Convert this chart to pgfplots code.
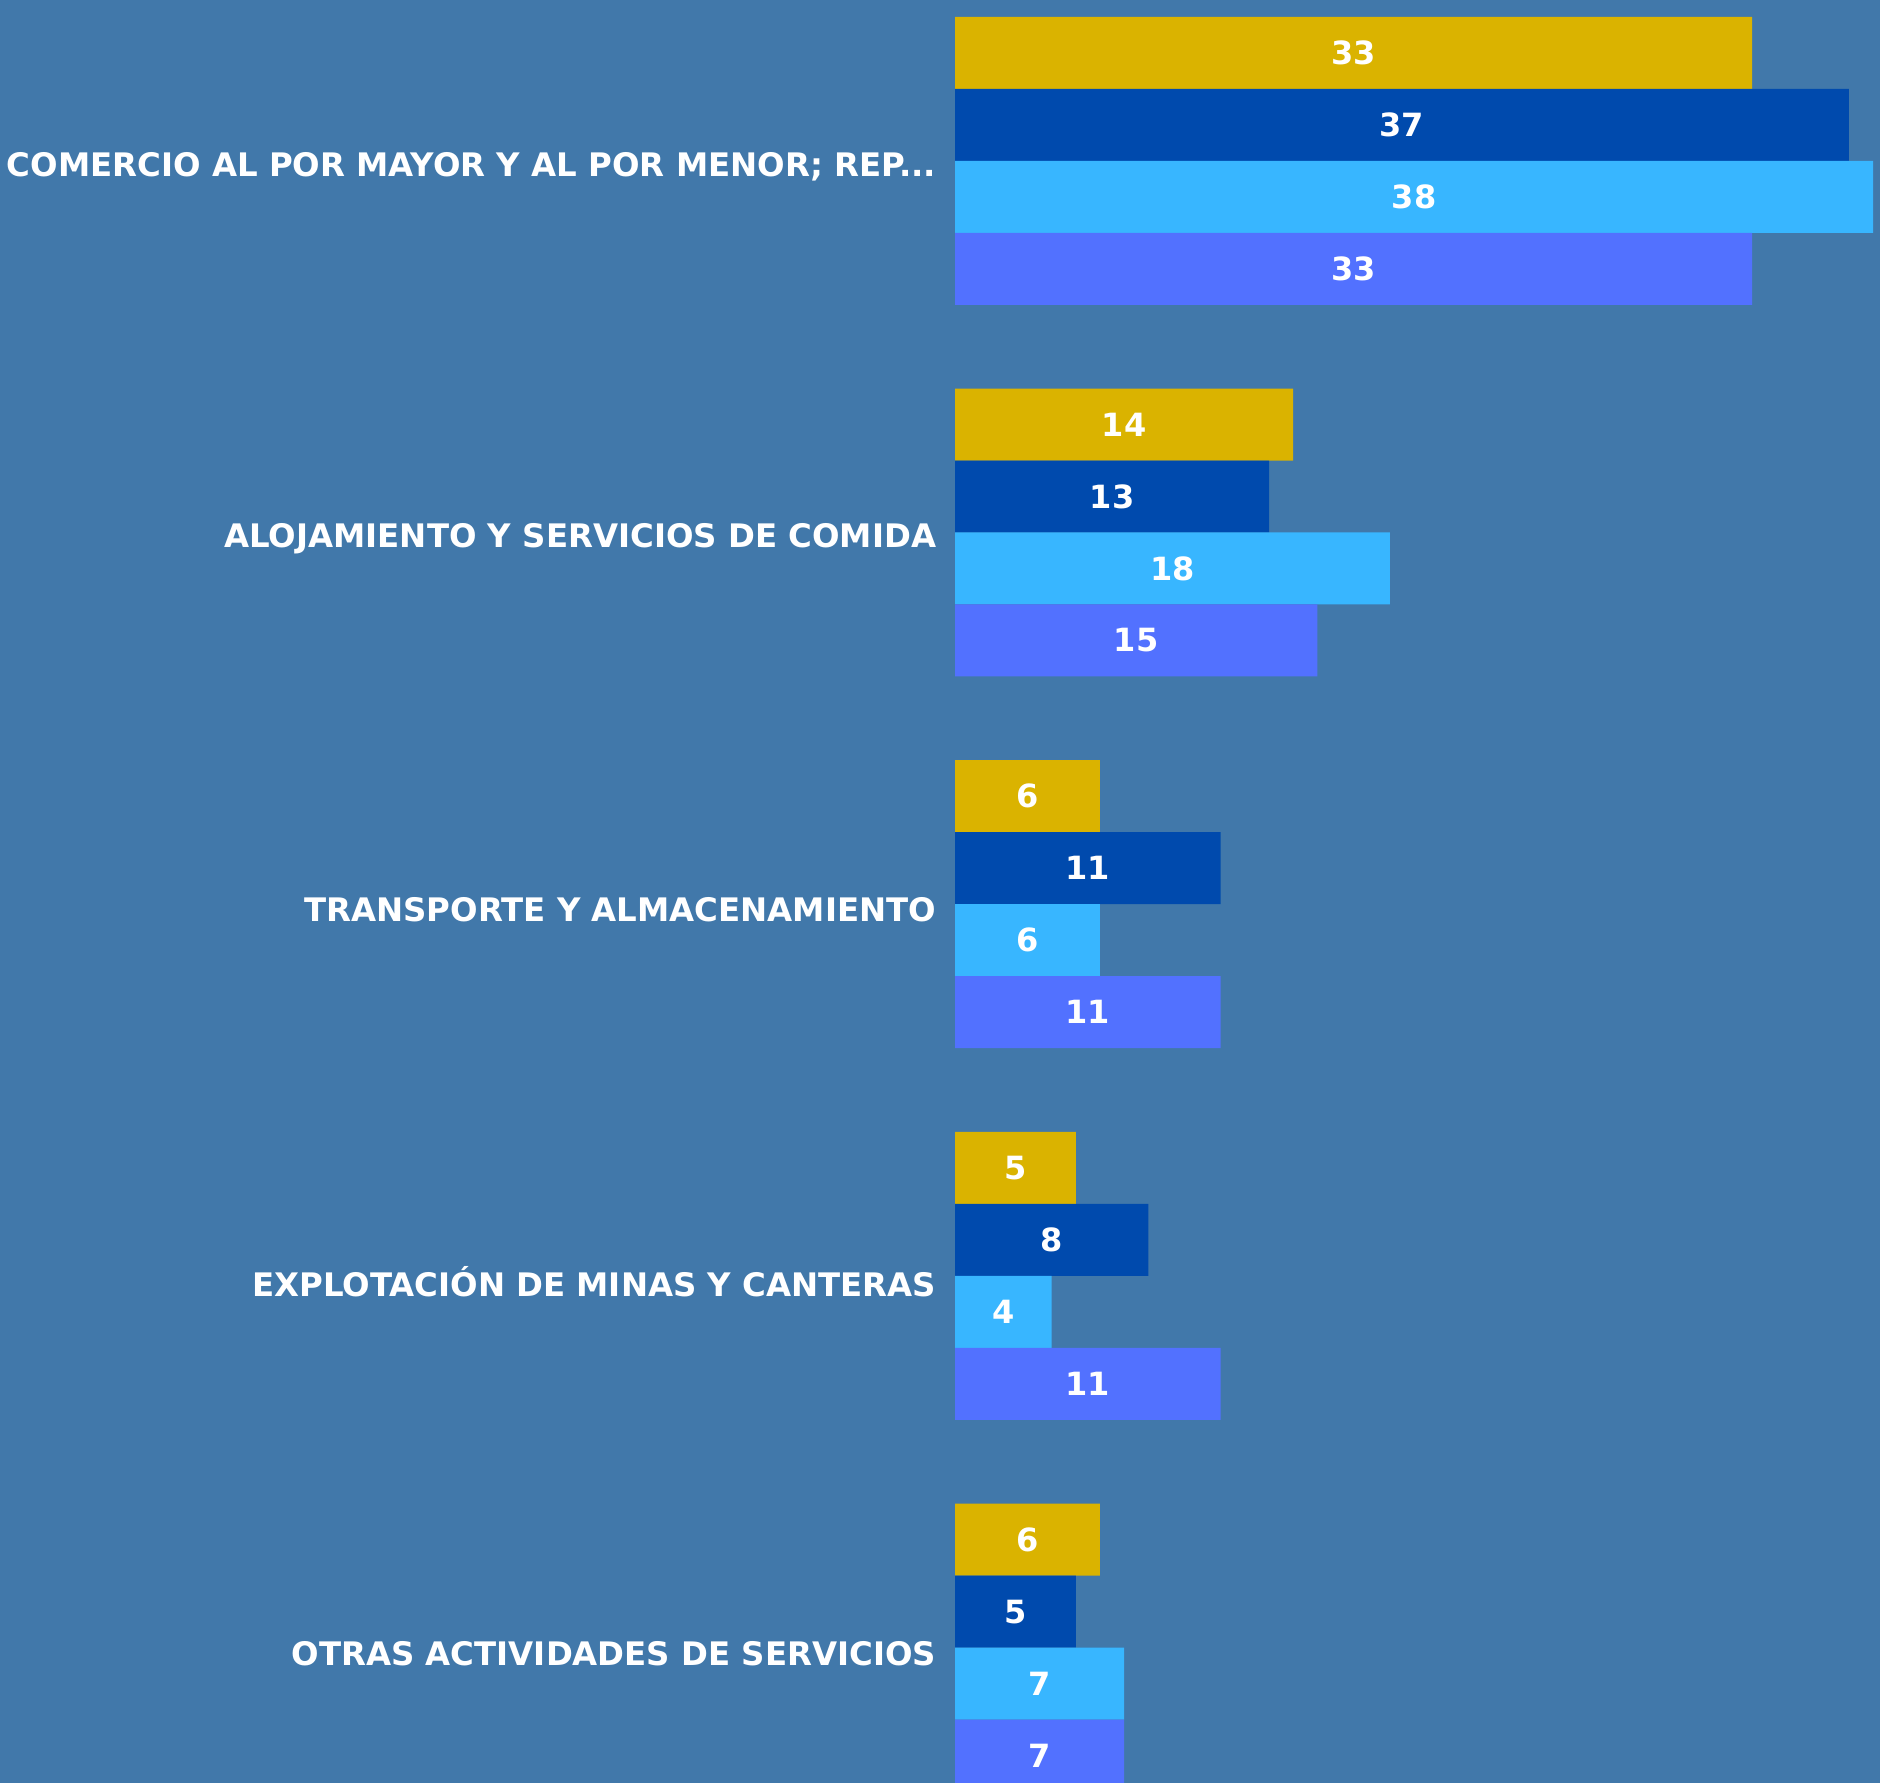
\documentclass[border=0pt]{standalone}
\usepackage{fontspec}
\setmainfont{DejaVu Sans}
\usepackage{pgfplots}
\pgfplotsset{compat=1.18}
\definecolor{bg}{RGB}{65,120,170}
\definecolor{cgold}{RGB}{218,179,0}
\definecolor{cdark}{RGB}{0,74,173}
\definecolor{clight}{RGB}{56,182,255}
\definecolor{cperi}{RGB}{82,113,255}
\begin{document}
\begin{tikzpicture}
  % 1 px of the reference = 0.25pt
  \useasboundingbox (0,0) rectangle (470pt,445.75pt);
  \clip (0,0) rectangle (470pt,445.75pt);
  \fill[bg] (0,0) rectangle (470pt,445.75pt);
  \begin{axis}[
    at={(238.75pt,452pt)}, anchor=north west,
    scale only axis,
    width=229.5pt, height=464.6pt,
    xbar, xmin=0, xmax=38,
    ymin=-0.5, ymax=4.5, y dir=reverse,
    bar width=0.1937,
    axis line style={draw=none},
    xtick=\empty,
    clip=false,
    ytick={0,1,2,3,4},
    yticklabels={{COMERCIO AL POR MAYOR Y AL POR MENOR; REP{...}},
                 {ALOJAMIENTO Y SERVICIOS DE COMIDA},
                 {TRANSPORTE Y ALMACENAMIENTO},
                 {EXPLOTACIÓN DE MINAS Y CANTERAS},
                 {OTRAS ACTIVIDADES DE SERVICIOS}},
    major tick length=0pt,
    yticklabel style={anchor=east, inner sep=0pt, xshift=-4.5pt, yshift=-1.5pt,
      text=white, font=\fontsize{8.1}{9}\selectfont\bfseries},
    point meta=explicit symbolic,
    nodes near coords,
    visualization depends on={rawx/2 \as \halfx},
    nodes near coords style={anchor=center, text=white,
      shift={(axis direction cs:-\halfx,0)},
      font=\fontsize{8}{9}\selectfont\bfseries},
    every axis plot/.append style={draw=none},
  ]
  \addplot[fill=cgold, bar shift=-0.2905] coordinates {
    (33,0) [33] (14,1) [14] (6,2) [6] (5,3) [5] (6,4) [6]};
  \addplot[fill=cdark, bar shift=-0.0968] coordinates {
    (37,0) [37] (13,1) [13] (11,2) [11] (8,3) [8] (5,4) [5]};
  \addplot[fill=clight, bar shift=0.0968] coordinates {
    (38,0) [38] (18,1) [18] (6,2) [6] (4,3) [4] (7,4) [7]};
  \addplot[fill=cperi, bar shift=0.2905] coordinates {
    (33,0) [33] (15,1) [15] (11,2) [11] (11,3) [11] (7,4) [7]};
  \end{axis}
\end{tikzpicture}
\end{document}
